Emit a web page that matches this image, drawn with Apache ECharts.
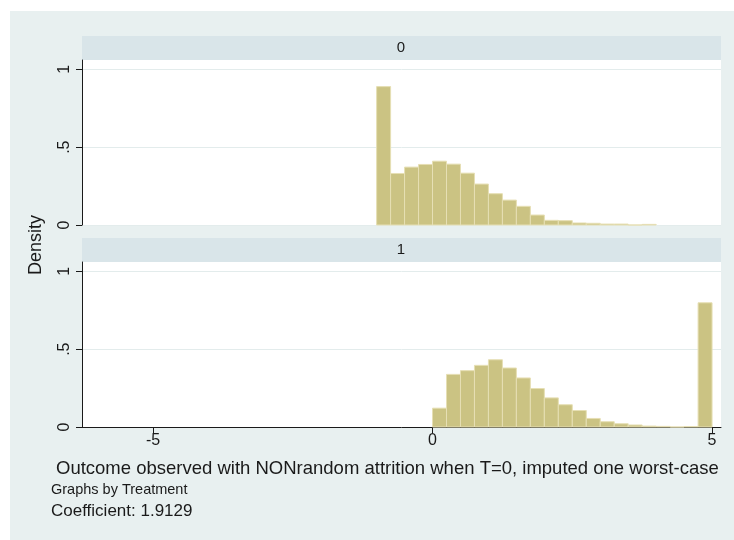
<!DOCTYPE html>
<html>
<head>
<meta charset="utf-8">
<script src="https://cdn.jsdelivr.net/npm/echarts@6/dist/echarts.min.js"></script>
<style>
  html, body { margin: 0; padding: 0; background: #fff; }
  #chart { width: 734px; height: 540px; }
</style>
</head>
<body>
<div id="chart"></div>
<script>
// histogram bins (left edges), width 0.25
const binWidth = 0.25;
const binLeft0 = [-1, -0.75, -0.5, -0.25, 0, 0.25, 0.5, 0.75, 1, 1.25, 1.5, 1.75, 2, 2.25, 2.5, 2.75, 3, 3.25, 3.5, 3.75];
const density0 = [0.889, 0.331, 0.372, 0.389, 0.410, 0.391, 0.333, 0.263, 0.201, 0.160, 0.120, 0.064, 0.030, 0.028, 0.013, 0.011, 0.006, 0.006, 0, 0.004];
const binLeft1 = [0, 0.25, 0.5, 0.75, 1, 1.25, 1.5, 1.75, 2, 2.25, 2.5, 2.75, 3, 3.25, 3.5, 3.75, 4, 4.25, 4.5, 4.75];
const density1 = [0.121, 0.338, 0.362, 0.396, 0.432, 0.379, 0.315, 0.247, 0.187, 0.143, 0.106, 0.055, 0.034, 0.021, 0.013, 0.006, 0.004, 0, 0.003, 0.798];
const panelLabels = ["0", "1"];
const xTicks = [-5, 0, 5];
const yTicks = [0, 0.5, 1];
const yTickText = { 0: "0", 0.5: ".5", 1: "1" };

const colors = {
  bg: "#e8f0f0",
  strip: "#d9e5e9",
  bar: "#cbc383",
  barEdge: "#e6dfb4",
  grid: "#e3ecec",
  ink: "#1a1a1a",
};
const font = "Liberation Sans, Arial, sans-serif";

/** 画直方图柱子 */
function renderBin(params, api) {
  const x0 = api.value(0);
  const h = api.value(1);
  const p0 = api.coord([x0, 0]);
  const p1 = api.coord([x0 + binWidth, h]);
  return {
    type: "rect",
    shape: { x: p0[0], y: p1[1], width: p1[0] - p0[0], height: p0[1] - p1[1] },
    style: { fill: colors.bar, stroke: colors.barEdge, lineWidth: 1 },
  };
}

function makeX(idx, showAxis) {
  return {
    type: "value",
    gridIndex: idx,
    min: -6.27,
    max: 5.16,
    splitLine: { show: false },
    axisLine: { show: showAxis, onZero: false, lineStyle: { color: colors.ink, width: 1 } },
    axisTick: { show: showAxis, length: 6, customValues: xTicks, lineStyle: { color: colors.ink } },
    axisLabel: {
      show: showAxis,
      customValues: xTicks,
      color: colors.ink,
      fontFamily: font,
      fontSize: 16,
      margin: 6,
    },
  };
}

function makeY(idx) {
  return {
    type: "value",
    gridIndex: idx,
    min: 0,
    max: 1.06,
    axisLine: { show: true, onZero: false, lineStyle: { color: colors.ink, width: 1 } },
    axisTick: { show: true, length: 6, customValues: yTicks, lineStyle: { color: colors.ink } },
    splitLine: { show: true, lineStyle: { color: colors.grid, width: 1 } },
    axisLabel: {
      customValues: yTicks,
      rotate: 90,
      color: colors.ink,
      fontFamily: font,
      fontSize: 16,
      margin: 9,
      formatter: (v) => yTickText[v],
    },
  };
}

const myChart = echarts.init(document.getElementById("chart"), null, { renderer: "canvas" });
const option = {
  backgroundColor: "#fff",
  animation: false,
  grid: [
    { left: 82, top: 60, width: 639, height: 165, backgroundColor: "#fff", show: true, borderWidth: 0 },
    { left: 82, top: 262, width: 639, height: 165, backgroundColor: "#fff", show: true, borderWidth: 0 },
  ],
  xAxis: [makeX(0, false), makeX(1, true)],
  yAxis: [makeY(0), makeY(1)],
  graphic: [
    { type: "rect", z: -10, silent: true, shape: { x: 10, y: 11, width: 724, height: 529 }, style: { fill: colors.bg } },
    { type: "rect", z: -5, shape: { x: 82, y: 36, width: 639, height: 24 }, style: { fill: colors.strip } },
    { type: "rect", z: -5, shape: { x: 82, y: 238, width: 639, height: 24 }, style: { fill: colors.strip } },
    {
      type: "text", x: 401, y: 48,
      style: { text: panelLabels[0], fill: colors.ink, font: "15px " + font, align: "center", verticalAlign: "middle" },
    },
    {
      type: "text", x: 401, y: 250,
      style: { text: panelLabels[1], fill: colors.ink, font: "15px " + font, align: "center", verticalAlign: "middle" },
    },
    {
      type: "text", x: 36, y: 245, rotation: Math.PI / 2,
      style: { text: "Density", fill: colors.ink, font: "18px " + font, align: "center", verticalAlign: "middle" },
    },
    {
      type: "text", x: 56, y: 469,
      style: { text: "Outcome observed with NONrandom attrition when T=0, imputed one worst-case", fill: colors.ink, font: "18.5px " + font, verticalAlign: "middle" },
    },
    {
      type: "text", x: 51, y: 490,
      style: { text: "Graphs by Treatment", fill: colors.ink, font: "14.5px " + font, verticalAlign: "middle" },
    },
    {
      type: "text", x: 51, y: 511,
      style: { text: "Coefficient: 1.9129", fill: colors.ink, font: "17px " + font, verticalAlign: "middle" },
    },
  ],
  series: [
    {
      type: "custom",
      xAxisIndex: 0,
      yAxisIndex: 0,
      renderItem: renderBin,
      encode: { x: 0, y: 1 },
      data: binLeft0.map((b, i) => [b, density0[i]]),
    },
    {
      type: "custom",
      xAxisIndex: 1,
      yAxisIndex: 1,
      renderItem: renderBin,
      encode: { x: 0, y: 1 },
      data: binLeft1.map((b, i) => [b, density1[i]]),
    },
  ],
};
myChart.setOption(option);
</script>
</body>
</html>
